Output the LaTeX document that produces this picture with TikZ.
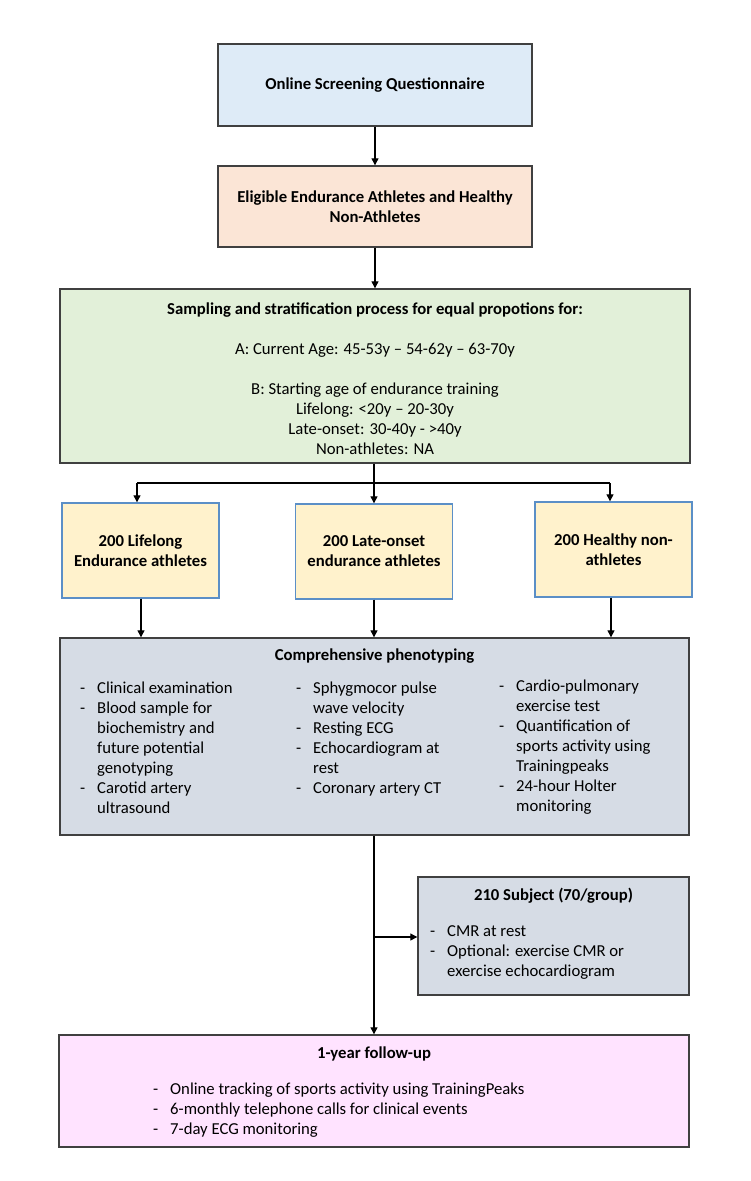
\documentclass[tikz,border=0pt]{standalone}
\usepackage{fontspec}
\setmainfont{Carlito}
\usetikzlibrary{arrows.meta}
\definecolor{bordergray}{HTML}{404040}
\definecolor{fblue}{HTML}{DEEBF7}
\definecolor{forange}{HTML}{FBE5D6}
\definecolor{fgreen}{HTML}{E2F0D9}
\definecolor{fyellow}{HTML}{FFF2CC}
\definecolor{byellow}{HTML}{5B8FC7}
\definecolor{fgray}{HTML}{D6DCE5}
\definecolor{fpink}{HTML}{FFE3FF}
\newcommand{\dsh}{\makebox[17pt][l]{-}}
\newcommand{\nodsh}{\makebox[17pt][l]{}}
\newcommand{\fs}{\fontsize{16.7}{20}\selectfont}
\begin{document}
\begin{tikzpicture}[x=1pt,y=-1pt,
  every node/.style={font=\fs},
  box/.style={draw=bordergray, line width=1.4pt, inner sep=0pt, rectangle},
  ybox/.style={draw=byellow, fill=fyellow, line width=1.4pt, inner sep=0pt, rectangle, minimum width=157pt, minimum height=95pt, align=center},
  txt/.style={inner sep=0pt, align=left, anchor=north west},
  ctxt/.style={inner sep=0pt, align=center, anchor=north},
  arr/.style={draw=black, line width=1.2pt, -{Triangle[length=7pt,width=7pt]}},
  ln/.style={draw=black, line width=1.2pt}
]
\useasboundingbox (0,0) rectangle (750,1181);
\fill[white] (0,0) rectangle (750,1181);

% Box 1
\node[box, fill=fblue, minimum width=314pt, minimum height=82pt, font=\fs\bfseries] (q) at (375,85) {Online Screening Questionnaire};
% Box 2
\node[box, fill=forange, minimum width=314pt, minimum height=81pt, align=center, font=\fs\bfseries] (e) at (375,206.5) {Eligible Endurance Athletes and Healthy\\Non-Athletes};
% Green box
\node[box, fill=fgreen, minimum width=630pt, minimum height=174pt] (s) at (375,376) {};
\node[ctxt] (stxt) at (375,302.5) {\textbf{Sampling and stratification process for equal propotions for:}\\[20pt]
A: Current Age: 45-53y -- 54-62y -- 63-70y\\[20pt]
B: Starting age of endurance training\\
Lifelong: <20y -- 20-30y\\
Late-onset: 30-40y - >40y\\
Non-athletes: NA};

% Yellow boxes
\node[ybox, font=\fs\bfseries] (ya) at (140.5,550.5) {200 Lifelong\\Endurance athletes};
\node[ybox, font=\fs\bfseries] (yb) at (374,551.5) {200 Late-onset\\endurance athletes};
\node[ybox, font=\fs\bfseries] (yc) at (613.5,549.5) {200 Healthy non-\\athletes};

% Phenotyping box
\node[box, fill=fgray, minimum width=629pt, minimum height=197pt] (p) at (374.5,736.5) {};
\node[ctxt, font=\fs\bfseries] (ptitle) at (374.5,648.5) {Comprehensive phenotyping};
\node[txt] (pc1) at (80,681.5) {\dsh Clinical examination\\
\dsh Blood sample for\\
\nodsh biochemistry and\\
\nodsh future potential\\
\nodsh genotyping\\
\dsh Carotid artery\\
\nodsh ultrasound};
\node[txt] (pc2) at (296,681.5) {\dsh Sphygmocor pulse\\
\nodsh wave velocity\\
\dsh Resting ECG\\
\dsh Echocardiogram at\\
\nodsh rest\\
\dsh Coronary artery CT};
\node[txt] (pc3) at (499,679.5) {\dsh Cardio-pulmonary\\
\nodsh exercise test\\
\dsh Quantification of\\
\nodsh sports activity using\\
\nodsh Trainingpeaks\\
\dsh 24-hour Holter\\
\nodsh monitoring};

% Subject box
\node[box, fill=fgray, minimum width=271pt, minimum height=118pt] (sub) at (553.5,936) {};
\node[ctxt, font=\fs\bfseries] (subt) at (553.5,887.5) {210 Subject (70/group)};
\node[txt] (subl) at (430,925.5) {\dsh CMR at rest\\
\dsh Optional: exercise CMR or\\
\nodsh exercise echocardiogram};

% Follow-up box
\node[box, fill=fpink, minimum width=630pt, minimum height=112pt] (f) at (374,1091) {};
\node[ctxt, font=\fs\bfseries] (ft) at (374,1046.5) {1-year follow-up};
\node[txt] (fl) at (153,1082.5) {\dsh Online tracking of sports activity using TrainingPeaks\\
\dsh 6-monthly telephone calls for clinical events\\
\dsh 7-day ECG monitoring};

% Connectors
\draw[arr] (q.south) -- (e.north);
\draw[arr] (e.south) -- (s.north -| e.south);
\coordinate (j) at (374,483);
\coordinate (jl) at (137,483);
\coordinate (jr) at (610,483);
\draw[ln] (s.south -| j) -- (j);
\draw[ln] (jl) -- (jr);
\draw[arr] (jl) -- (jl |- ya.north);
\draw[arr] (j) -- (yb.north);
\draw[arr] (jr) -- (jr |- yc.north);
\draw[arr] (ya.south -| 141,0) -- (p.north -| 141,0);
\draw[arr] (yb.south) -- (p.north -| yb.south);
\draw[arr] (yc.south -| 611,0) -- (p.north -| 611,0);
\coordinate (side) at (374,937);
\draw[arr] (p.south -| 374,0) -- (f.north -| 374,0);
\draw[arr] (side) -- (side -| sub.west);
\end{tikzpicture}
\end{document}
